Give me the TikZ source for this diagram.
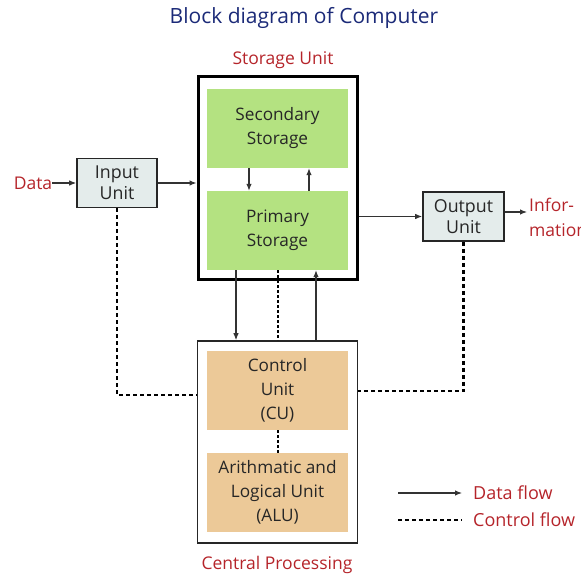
\documentclass[tikz,border=0pt]{standalone}
\usepackage{fontspec}
\setmainfont{Open Sans}
\usetikzlibrary{arrows.meta}
\definecolor{navy}{HTML}{1B2A78}
\definecolor{dred}{HTML}{B5242A}
\definecolor{lgreen}{HTML}{B4E281}
\definecolor{tan}{HTML}{ECC998}
\definecolor{lgray}{HTML}{E4ECEB}
\definecolor{lnk}{HTML}{333333}
\tikzset{
  inner/.style={fill=#1, draw=none, minimum width=141pt, minimum height=79pt, align=center, font=\fontsize{17.2}{24}\selectfont, text=black!85},
  unitbox/.style={fill=lgray, draw=black!85, line width=1.6pt, minimum width=80pt, minimum height=49pt, align=center, font=\fontsize{17.8}{21}\selectfont, text=black!85, inner sep=0pt},
  lbl/.style={text=dred, font=\fontsize{17.5}{24}\selectfont, inner sep=0pt},
  flow/.style={-{Latex[length=7pt,width=5.5pt]}, line width=1.1pt, draw=lnk},
  ctrl/.style={line width=2.4pt, dash pattern=on 4pt off 3pt, draw=black},
  dotl/.style={line width=2pt, dash pattern=on 2.5pt off 2.5pt, draw=black},
}
\begin{document}
\begin{tikzpicture}[x=1pt,y=-1pt]
\useasboundingbox (0,0) rectangle (581,575);
% title
\node[text=navy, font=\fontsize{21}{24}\selectfont, inner sep=0pt] (title) at (304,18) {Block diagram of Computer};
% storage unit
\node[lbl] (stlbl) at (283,60) {Storage Unit};
\node[draw=black, line width=3pt, minimum width=159pt, minimum height=202pt, inner sep=0pt] (storage) at (277.5,178) {};
\node[inner=lgreen] (secondary) at (277.5,128.5) {Secondary\\Storage};
\node[inner=lgreen] (primary) at (277.5,230.5) {Primary\\Storage};
\draw[flow] ([xshift=-28.5pt]secondary.south) -- ([xshift=-28.5pt]primary.north);
\draw[flow] ([xshift=31.5pt]primary.north) -- ([xshift=31.5pt]secondary.south);
% input
\node[unitbox] (input) at (117,183) {Input\\Unit};
\node[lbl] (data) at (33,183) {Data};
\draw[flow] (data) -- (input);
\draw[flow] (input) -- (input -| storage.west);
% output
\node[unitbox, minimum width=81pt] (output) at (463.5,216.5) {Output\\Unit};
\draw[flow] (storage.east |- output) -- (output.west);
\node[lbl, align=left, anchor=west, font=\fontsize{17.5}{25}\selectfont] (info) at (529,217.5) {Infor-\\mation};
\coordinate (infoarrow) at (527,212);
\draw[flow] (output.east |- infoarrow) -- (infoarrow);
% CPU
\node[draw=black!85, line width=1.6pt, minimum width=160pt, minimum height=202pt, inner sep=0pt] (cpu) at (277.5,442) {};
\node[inner=tan] (cu) at (277.5,390.5) {Control\\Unit\\(CU)};
\node[inner=tan] (alu) at (277.5,492.5) {Arithmatic and\\Logical Unit\\(ALU)};
\draw[dotl] (cu) -- (alu);
\node[lbl] (cplbl) at (277,565) {Central Processing};
% storage <-> cpu
\draw[flow] ([xshift=-41.5pt]primary.south) -- ([xshift=-41.5pt]cpu.north);
\draw[dotl] (primary.south) -- (cpu.north);
\draw[flow] ([xshift=38.5pt]cpu.north) -- ([xshift=38.5pt]primary.south);
% control lines
\draw[ctrl] (input.south) |- ([yshift=47pt]cpu.west);
\draw[ctrl] (output.south) |- ([yshift=51pt]cpu.east);
% legend
\coordinate (l1a) at (398,493);
\coordinate (l1b) at (462,493);
\coordinate (l2a) at (398,520);
\coordinate (l2b) at (462,520);
\draw[flow] (l1a) -- (l1b);
\draw[ctrl] (l2a) -- (l2b);
\node[lbl, anchor=west, font=\fontsize{18}{24}\selectfont] (lg1) at (473,493) {Data flow};
\node[lbl, anchor=west, font=\fontsize{18}{24}\selectfont] (lg2) at (473,520) {Control flow};
\end{tikzpicture}
\end{document}
